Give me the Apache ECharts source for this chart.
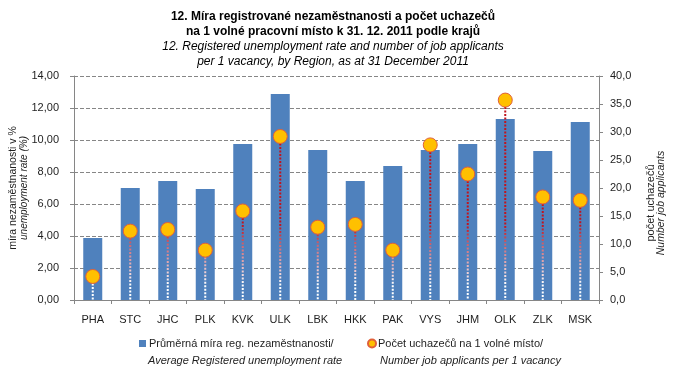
<!DOCTYPE html>
<html>
<head>
<meta charset="utf-8">
<script src="https://cdn.jsdelivr.net/npm/echarts@6/dist/echarts.min.js"></script>
<style>
html,body{margin:0;padding:0;background:#fff;}
#chart{width:680px;height:374px;}
</style>
</head>
<body>
<div id="chart"></div>
<script>
const categories = ['PHA','STC','JHC','PLK','KVK','ULK','LBK','HKK','PAK','VYS','JHM','OLK','ZLK','MSK'];
const unemploymentRate = [3.88, 7.00, 7.44, 6.94, 9.75, 12.88, 9.38, 7.44, 8.38, 9.38, 9.75, 11.31, 9.31, 11.13];
const applicantsPerVacancy = [4.2, 12.3, 12.6, 8.9, 15.9, 29.2, 13.0, 13.5, 8.9, 27.7, 22.5, 35.7, 18.4, 17.8];
const leftTicks = {min: 0, max: 14, interval: 2};
const rightTicks = {min: 0, max: 40, interval: 5};
const seriesNames = ['Průměrná míra reg. nezaměstnanosti/', 'Počet uchazečů na 1 volné místo/'];
const seriesNamesEn = ['Average Registered unemployment rate', 'Number job applicants per 1 vacancy'];
const titleCz = '12. Míra registrované nezaměstnanosti a počet uchazečů\nna 1 volné pracovní místo k 31. 12. 2011 podle krajů';
const titleEn = '12. Registered unemployment rate and number of job applicants\nper 1 vacancy, by Region, as at 31 December 2011';
const leftAxisName = ['míra nezaměstnanosti v %', 'unemployment rate (%)'];
const rightAxisName = ['počet uchazečů', 'Number job applicants'];

const FONT = '"Liberation Sans", Arial, sans-serif';
const TXT = '#1e1e1e';
const GRAY = '#868686';

const chart = echarts.init(document.getElementById('chart'), null, {renderer: 'canvas'});

const dropData = applicantsPerVacancy.map((v, i) => [i, v]);

const option = {
  animation: false,
  backgroundColor: '#fff',
  textStyle: {fontFamily: FONT},
  title: {
    text: titleCz,
    subtext: titleEn,
    left: 333,
    top: 9,
    padding: 0,
    itemGap: 0,
    textAlign: 'center',
    textStyle: {fontFamily: FONT, fontSize: 12, fontWeight: 'bold', color: '#000', lineHeight: 15},
    subtextStyle: {fontFamily: FONT, fontSize: 12, fontStyle: 'italic', color: '#000', lineHeight: 15}
  },
  legend: [
    {
      data: [seriesNames[0]],
      left: 139, top: 338, padding: 0,
      itemWidth: 7, itemHeight: 7, icon: 'rect',
      itemGap: 0,
      textStyle: {fontFamily: FONT, fontSize: 11, color: TXT, padding: [0, 0, 0, -2]}
    },
    {
      data: [seriesNames[1]],
      left: 367, top: 338, padding: 0,
      itemWidth: 8, itemHeight: 8, icon: 'circle',
      itemGap: 0,
      textStyle: {fontFamily: FONT, fontSize: 11, color: TXT, padding: [0, 0, 0, -3]}
    }
  ],
  graphic: [
    {type: 'text', left: 148, top: 355, style: {text: seriesNamesEn[0], font: 'italic 11px ' + FONT, fill: TXT}},
    {type: 'text', left: 380, top: 355, style: {text: seriesNamesEn[1], font: 'italic 11px ' + FONT, fill: TXT}}
  ],
  grid: {left: 72, right: 81, top: 76, bottom: 74, containLabel: false},
  xAxis: {
    type: 'category',
    data: categories,
    boundaryGap: true,
    axisLine: {lineStyle: {color: GRAY, width: 1}},
    axisTick: {show: true, length: 4, lineStyle: {color: GRAY}},
    axisLabel: {fontFamily: FONT, fontSize: 11, color: TXT, margin: 14}
  },
  yAxis: [
    {
      type: 'value',
      min: leftTicks.min, max: leftTicks.max, interval: leftTicks.interval,
      position: 'left',
      name: '{a|' + leftAxisName[0] + '}\n{b|' + leftAxisName[1] + '}',
      nameLocation: 'middle',
      nameGap: 44,
      nameMoveOverlap: false,
      nameTextStyle: {
        rich: {
          a: {fontFamily: FONT, fontSize: 10.5, color: TXT, lineHeight: 11},
          b: {fontFamily: FONT, fontSize: 10, fontStyle: 'italic', color: TXT, lineHeight: 11}
        }
      },
      axisLine: {show: true, lineStyle: {color: GRAY}},
      axisTick: {show: true, length: 4, lineStyle: {color: GRAY}},
      axisLabel: {fontFamily: FONT, fontSize: 11, color: TXT, margin: 15,
        formatter: v => v.toFixed(2).replace('.', ',')},
      splitLine: {show: true, lineStyle: {color: GRAY, type: [4, 2], width: 1}}
    },
    {
      type: 'value',
      min: rightTicks.min, max: rightTicks.max, interval: rightTicks.interval,
      position: 'right',
      name: '{a|' + rightAxisName[0] + '}\n{b|' + rightAxisName[1] + '}',
      nameLocation: 'middle',
      nameGap: 47,
      nameMoveOverlap: false,
      nameTextStyle: {
        padding: [0, 30, 0, 0],
        rich: {
          a: {fontFamily: FONT, fontSize: 11, color: TXT, lineHeight: 10},
          b: {fontFamily: FONT, fontSize: 10.5, fontStyle: 'italic', color: TXT, lineHeight: 10}
        }
      },
      axisLine: {show: true, lineStyle: {color: GRAY}},
      axisTick: {show: true, length: 4, lineStyle: {color: GRAY}},
      axisLabel: {fontFamily: FONT, fontSize: 11, color: TXT, margin: 11,
        formatter: v => v.toFixed(1).replace('.', ',')},
      splitLine: {show: false}
    }
  ],
  series: [
    {
      name: seriesNames[0],
      type: 'bar',
      yAxisIndex: 0,
      data: unemploymentRate,
      barWidth: 19,
      itemStyle: {color: '#4F81BD'},
      z: 2
    },
    {
      name: 'drop',
      type: 'custom',
      yAxisIndex: 1,
      data: dropData,
      z: 3,
      silent: true,
      renderItem: function (params, api) {
        const top = api.coord([api.value(0), api.value(1)]);
        const base = api.coord([api.value(0), 0]);
        return {
          type: 'line',
          shape: {x1: top[0], y1: top[1], x2: base[0], y2: base[1]},
          style: {
            stroke: new echarts.graphic.LinearGradient(0, base[1] - 75, 0, base[1] - 15, [
              {offset: 0, color: '#C0141E'},
              {offset: 0.5, color: '#D98A94'},
              {offset: 1, color: '#FFFFFF'}
            ], true),
            lineWidth: 2,
            lineDash: [2, 1.5]
          }
        };
      }
    },
    {
      name: seriesNames[1],
      type: 'scatter',
      yAxisIndex: 1,
      data: applicantsPerVacancy,
      symbol: 'circle',
      symbolSize: 14,
      itemStyle: {color: '#FFC000', borderColor: '#E0603A', borderWidth: 1, opacity: 1},
      z: 4
    }
  ]
};

chart.setOption(option);
</script>
</body>
</html>
